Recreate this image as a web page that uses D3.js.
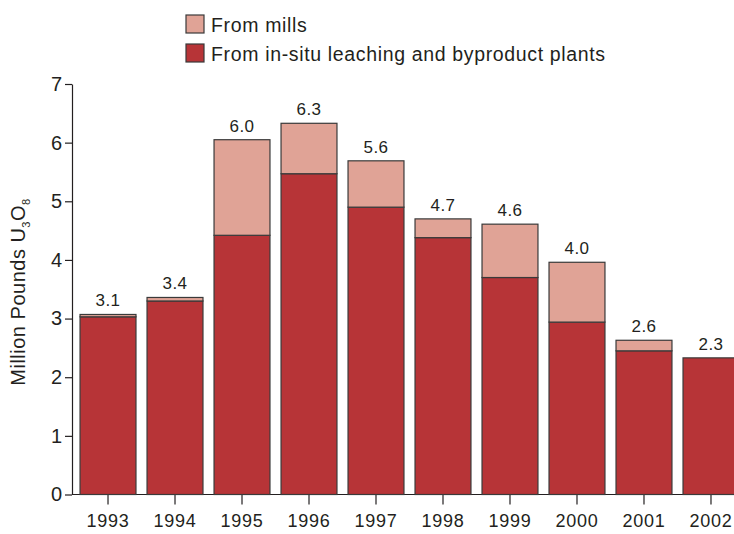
<!DOCTYPE html>
<html>
<head>
<meta charset="utf-8">
<script src="https://cdn.jsdelivr.net/npm/d3@7"></script>
<style>
  body { margin: 0; background: #fff; }
  text { font-family: "Liberation Sans", Arial, sans-serif; fill: #231f20; }
</style>
</head>
<body>
<svg width="734" height="534"></svg>
<script>
// Uranium concentrate production, million pounds U3O8
const years = ["1993", "1994", "1995", "1996", "1997", "1998", "1999", "2000", "2001", "2002"];
const fromIsl = [3.03, 3.30, 4.42, 5.47, 4.90, 4.38, 3.70, 2.94, 2.45, 2.33];
const fromMills = [0.04, 0.06, 1.63, 0.86, 0.79, 0.32, 0.91, 1.02, 0.18, 0];
const totalLabels = ["3.1", "3.4", "6.0", "6.3", "5.6", "4.7", "4.6", "4.0", "2.6", "2.3"];
const yTicks = [0, 1, 2, 3, 4, 5, 6, 7];

const COLOR_ISL = "#b73437";
const COLOR_MILLS = "#e0a396";

const svg = d3.select("svg");

// Scales
let x = d3.scaleBand()
    .domain(years)
    .range([72, 747])
    .paddingInner(0.165)
    .paddingOuter(0.12);

let y = d3.scaleLinear()
    .domain([0, 7])
    .range([494.5, 84]);

// Axes
let yAxis = svg.append("g")
    .attr("transform", "translate(72,0)")
    .call(d3.axisLeft(y).tickValues(yTicks).tickFormat(d3.format("d"))
        .tickSize(7).tickSizeOuter(0).tickPadding(3));
yAxis.selectAll("text").style("font-size", "20px");

let xAxis = svg.append("g")
    .attr("transform", "translate(0,494.5)")
    .call(d3.axisBottom(x).tickSize(10).tickSizeOuter(0).tickPadding(10));
xAxis.select(".domain").attr("d", "M72,0H734");
xAxis.selectAll("text").style("font-size", "18px").style("letter-spacing", "0.7px");

svg.selectAll(".domain, .tick line").attr("stroke", "#231f20").attr("stroke-width", 1.2);

// Bars: in-situ at the bottom, mills stacked on top
let bars = svg.append("g").selectAll("g")
    .data(years)
    .enter().append("g");

bars.append("rect")
    .attr("x", d => x(d))
    .attr("width", x.bandwidth())
    .attr("y", (d, i) => y(fromIsl[i]))
    .attr("height", (d, i) => y(0) - y(fromIsl[i]))
    .attr("fill", COLOR_ISL)
    .attr("stroke", "#3a3a3a")
    .attr("stroke-width", 1.2);

bars.filter((d, i) => fromMills[i] > 0).append("rect")
    .attr("x", d => x(d))
    .attr("width", x.bandwidth())
    .attr("y", d => y(fromIsl[years.indexOf(d)] + fromMills[years.indexOf(d)]))
    .attr("height", d => y(0) - y(fromMills[years.indexOf(d)]))
    .attr("fill", COLOR_MILLS)
    .attr("stroke", "#3a3a3a")
    .attr("stroke-width", 1.2);

// Total labels
bars.append("text")
    .attr("x", d => x(d) + x.bandwidth() / 2)
    .attr("y", (d, i) => y(fromIsl[i] + fromMills[i]) - 8)
    .attr("text-anchor", "middle")
    .style("font-size", "17px")
    .style("letter-spacing", "0.4px")
    .text((d, i) => totalLabels[i]);

// Y axis title with subscripts
let yTitle = svg.append("text")
    .attr("transform", "translate(25,292) rotate(-90)")
    .attr("text-anchor", "middle")
    .style("font-size", "20px")
    .style("letter-spacing", "0.5px");
yTitle.append("tspan").text("Million Pounds U");
yTitle.append("tspan").attr("dy", 5).style("font-size", "11px").text("3");
yTitle.append("tspan").attr("dy", -5).text("O");
yTitle.append("tspan").attr("dy", 5).style("font-size", "11px").text("8");

// Legend
const legendItems = [
    {label: "From mills", color: COLOR_MILLS},
    {label: "From in-situ leaching and byproduct plants", color: COLOR_ISL}
];
let legend = svg.append("g").selectAll("g")
    .data(legendItems)
    .enter().append("g")
    .attr("transform", (d, i) => "translate(186," + (15 + i * 29) + ")");

legend.append("rect")
    .attr("width", 18)
    .attr("height", 18)
    .attr("fill", d => d.color)
    .attr("stroke", "#3a3a3a")
    .attr("stroke-width", 1.2);

legend.append("text")
    .attr("x", 25)
    .attr("y", 17)
    .style("font-size", "19.5px")
    .style("letter-spacing", "0.65px")
    .text(d => d.label);
</script>
</body>
</html>
